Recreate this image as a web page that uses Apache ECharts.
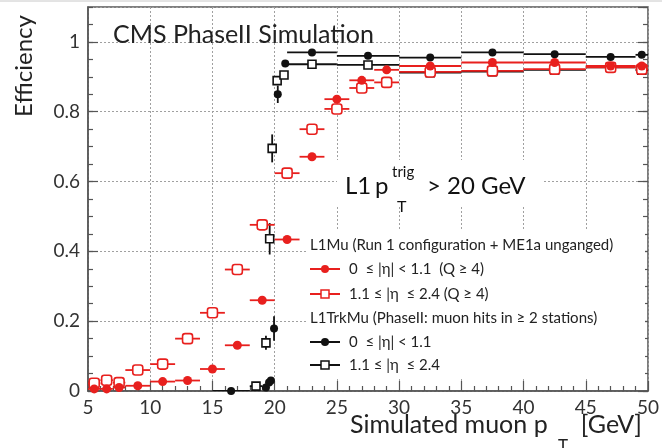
<!DOCTYPE html>
<html><head><meta charset="utf-8">
<script src="https://cdn.jsdelivr.net/npm/echarts@6/dist/echarts.min.js"></script>
<style>html,body{margin:0;padding:0;background:#fff}#c{width:662px;height:448px}</style>
</head><body><div id="c"></div>
<script>
// ---- data ----
const xTicks = [5, 10, 15, 20, 25, 30, 35, 40, 45, 50];
const yTicks = [0, 0.2, 0.4, 0.6, 0.8, 1];

// L1Mu bins (both eta ranges share binning)
const redX    = [5.5, 6.5, 7.5, 9, 11, 13, 15, 17, 19, 21, 23, 25, 27, 29, 32.5, 37.5, 42.5, 47, 49.5];
const redXErr = [0.5, 0.5, 0.5, 1, 1, 1, 1, 1, 1, 1, 1, 1, 1, 1, 2.5, 2.5, 2.5, 2, 0.5];
// L1Mu 0 <= |eta| < 1.1 (Q>=4)
const redCircleY = [0.006, 0.006, 0.01, 0.015, 0.027, 0.03, 0.063, 0.131, 0.26, 0.434, 0.671, 0.836, 0.89, 0.92, 0.931, 0.941, 0.941, 0.931, 0.931];
// L1Mu 1.1 <= |eta| <= 2.4 (Q>=4)
const redSquareY = [0.022, 0.031, 0.024, 0.06, 0.077, 0.15, 0.224, 0.348, 0.476, 0.624, 0.75, 0.808, 0.868, 0.884, 0.914, 0.917, 0.922, 0.927, 0.922];

// L1TrkMu 0 <= |eta| < 1.1
const blackCircleX    = [16.5, 19.3, 19.55, 19.7, 19.95, 20.25, 20.85, 23, 27.5, 32.5, 37.5, 42.5, 47, 49.5];
const blackCircleXErr = [1.5, 0.15, 0.1, 0.1, 0.1, 0.25, 0.15, 2, 2.5, 2.5, 2.5, 2.5, 2, 0.5];
const blackCircleY    = [0.0, 0.01, 0.024, 0.03, 0.179, 0.85, 0.938, 0.97, 0.96, 0.955, 0.97, 0.965, 0.957, 0.963];
const blackCircleYErr = [0, 0, 0.005, 0.005, 0.035, 0.025, 0.01, 0, 0, 0, 0, 0, 0, 0];

// L1TrkMu 1.1 <= |eta| <= 2.4
const blackSquareX    = [18.5, 19.3, 19.6, 19.8, 20.2, 20.75, 23, 27.5, 32.5, 37.5, 42.5, 47, 49.5];
const blackSquareXErr = [0.5, 0.1, 0.1, 0.1, 0.2, 0.2, 2, 2.5, 2.5, 2.5, 2.5, 2, 0.5];
const blackSquareY    = [0.014, 0.138, 0.436, 0.695, 0.889, 0.905, 0.936, 0.934, 0.912, 0.915, 0.92, 0.927, 0.919];
const blackSquareYErr = [0, 0.02, 0.045, 0.04, 0.01, 0.01, 0, 0, 0, 0, 0, 0, 0];

const RED = '#e8201e', BLACK = '#111';
const FONT = 'Lato';

function pack(xs, ys, xe, ye) { return xs.map((x, i) => [x, ys[i], xe[i], ye ? ye[i] : 0]); }

function errRender(color, lw) {
  return function (params, api) {
    const x = api.value(0), y = api.value(1), xe = api.value(2), ye = api.value(3);
    const l = api.coord([x - xe, y]), r = api.coord([x + xe, y]);
    const ch = [{ type: 'line', shape: { x1: l[0], y1: l[1], x2: r[0], y2: r[1] }, style: { stroke: color, lineWidth: lw } }];
    if (ye > 0) {
      const b = api.coord([x, y - ye]), t = api.coord([x, y + ye]);
      ch.push({ type: 'line', shape: { x1: b[0], y1: b[1], x2: t[0], y2: t[1] }, style: { stroke: color, lineWidth: lw } });
    }
    return { type: 'group', children: ch };
  };
}

function errSeries(data, color, lw, z) {
  return { type: 'custom', data: data, renderItem: errRender(color, lw), z: z, silent: true,
           encode: { x: 0, y: 1 }, clip: true };
}
function markSeries(data, symbol, size, color, filled, z) {
  return { type: 'scatter', data: data.map(d => [d[0], d[1]]), symbol: symbol, symbolSize: size, z: z, silent: true,
           itemStyle: { color: filled ? color : '#fff', borderColor: color, borderWidth: filled ? 0 : 1.6, opacity: 1 } };
}

const bc = pack(blackCircleX, blackCircleY, blackCircleXErr, blackCircleYErr);
const bs = pack(blackSquareX, blackSquareY, blackSquareXErr, blackSquareYErr);
const rc = pack(redX, redCircleY, redXErr, null);
const rs = pack(redX, redSquareY, redXErr, null);

const axisCol = '#555';
const chart = echarts.init(document.getElementById('c'), null, { renderer: 'canvas' });

function txt(x, y, text, size, extra) {
  return Object.assign({ type: 'text', x: x, y: y, z: 20,
    style: Object.assign({ text: text, font: size + 'px ' + FONT, fill: '#222', verticalAlign: 'middle' }, extra || {}) });
}

function legendEntry(y, color, symbol, filled, label) {
  const els = [
    { type: 'line', shape: { x1: 310, y1: y, x2: 340, y2: y }, style: { stroke: color, lineWidth: 2 }, z: 20 }
  ];
  if (symbol === 'circle') {
    els.push({ type: 'circle', shape: { cx: 325, cy: y, r: 4 }, style: { fill: filled ? color : '#fff', stroke: color, lineWidth: filled ? 0 : 1.5 }, z: 21 });
  } else {
    els.push({ type: 'rect', shape: { x: 321, y: y - 4, width: 8, height: 8 }, style: { fill: '#fff', stroke: color, lineWidth: 1.5 }, z: 21 });
  }
  els.push(txt(349, y, label, 15));
  return els;
}

const graphics = [
  { type: 'line', shape: { x1: 0, y1: 1, x2: 662, y2: 1 }, style: { stroke: '#c8c8c8', lineWidth: 1 }, z: 1 },
  // white boxes under the texts (hide the grid)
  { type: 'rect', shape: { x: 337, y: 160, width: 205, height: 47 }, style: { fill: '#fff' }, z: 1 },
  { type: 'rect', shape: { x: 307, y: 231, width: 338, height: 147 }, style: { fill: '#fff' }, z: 1 },
  txt(113, 35, 'CMS PhaseII Simulation', 25),
  // L1 pT trig > 20 GeV
  txt(345, 186, 'L1', 24, { fill: '#111' }),
  txt(375, 186, 'p', 24, { fill: '#111' }),
  txt(392, 172, 'trig', 15, { fill: '#111' }),
  txt(397, 207, 'T', 16, { fill: '#111' }),
  txt(427, 186, '> 20 GeV', 24, { fill: '#111' }),
  // axis titles
  txt(350, 425, 'Simulated muon p', 25),
  txt(558, 447, 'T', 17),
  txt(642, 425, '[GeV]', 25, { align: 'right' }),
  { type: 'text', x: 24, y: 66, rotation: Math.PI / 2, z: 20,
    style: { text: 'Efficiency', font: '24px ' + FONT, fill: '#222', align: 'center', verticalAlign: 'middle' } },
  // legend
  txt(310, 245, 'L1Mu (Run 1 configuration + ME1a unganged)', 15),
  ...legendEntry(269, RED, 'circle', true, '0  \u2264 |\u03b7| < 1.1  (Q \u2265 4)'),
  ...legendEntry(294, RED, 'rect', false, '1.1 \u2264 |\u03b7  \u2264 2.4 (Q \u2265 4)'),
  txt(310, 318, 'L1TrkMu (PhaseII: muon hits in \u2265 2 stations)', 15),
  ...legendEntry(342, BLACK, 'circle', true, '0  \u2264 |\u03b7| < 1.1'),
  ...legendEntry(365, BLACK, 'rect', false, '1.1 \u2264 |\u03b7  \u2264 2.4')
];

const gridRect = { left: 88, right: 11, top: 7, bottom: 57 };
const option = {
  animation: false,
  backgroundColor: '#fff',
  grid: Object.assign({ show: true, borderColor: axisCol, borderWidth: 1.5, backgroundColor: 'transparent', containLabel: false }, gridRect),
  xAxis: {
    type: 'value', min: xTicks[0], max: xTicks[xTicks.length - 1], interval: 5,
    axisLine: { show: true, lineStyle: { color: axisCol, width: 1.5 } },
    axisTick: { show: true, inside: true, length: 10, lineStyle: { color: axisCol, width: 1.2 } },
    minorTick: { show: true, splitNumber: 5, length: 5, lineStyle: { color: axisCol, width: 1.2 } },
    axisLabel: { show: true, margin: 7, color: '#333', fontFamily: FONT, fontSize: 19 },
    splitLine: { show: true, lineStyle: { color: '#a0a0a0', type: [2, 2], width: 1 } },
    z: 0
  },
  yAxis: [
    { type: 'value', min: 0, max: 1.1, interval: 0.2, position: 'left',
      axisLine: { show: true, lineStyle: { color: axisCol, width: 1.5 } },
      axisTick: { show: true, inside: true, length: 10, lineStyle: { color: axisCol, width: 1.2 } },
      axisLabel: { show: true, margin: 8, color: '#333', fontFamily: FONT, fontSize: 19, showMaxLabel: false,
                   formatter: v => (yTicks.some(t => Math.abs(t - v) < 1e-6) ? String(+v.toFixed(1)) : '') },
      splitLine: { show: true, lineStyle: { color: '#a0a0a0', type: [2, 2], width: 1 } }, z: 0 },
    { type: 'value', min: 0, max: 1.1, interval: 0.05, position: 'left',
      axisLine: { show: false }, axisLabel: { show: false }, splitLine: { show: false },
      axisTick: { show: true, inside: true, length: 5, lineStyle: { color: axisCol, width: 1.2 } }, z: 0 },
    { type: 'value', min: 0, max: 1.1, interval: 0.2, position: 'right',
      axisLine: { show: false }, axisLabel: { show: false }, splitLine: { show: false },
      axisTick: { show: true, inside: true, length: 10, lineStyle: { color: axisCol, width: 1.2 } }, z: 0 },
    { type: 'value', min: 0, max: 1.1, interval: 0.05, position: 'right',
      axisLine: { show: false }, axisLabel: { show: false }, splitLine: { show: false },
      axisTick: { show: true, inside: true, length: 5, lineStyle: { color: axisCol, width: 1.2 } }, z: 0 }
  ],
  series: [
    errSeries(bs, BLACK, 1.8, 5),
    markSeries(bs, 'rect', 8, BLACK, false, 6),
    errSeries(bc, BLACK, 1.8, 7),
    markSeries(bc, 'circle', 8, BLACK, true, 8),
    errSeries(rs, RED, 1.8, 9),
    markSeries(rs, 'roundRect', 10, RED, false, 10),
    errSeries(rc, RED, 1.8, 11),
    markSeries(rc, 'circle', 9, RED, true, 12)
  ],
  graphic: { elements: graphics }
};
chart.setOption(option);
</script>
</body></html>
